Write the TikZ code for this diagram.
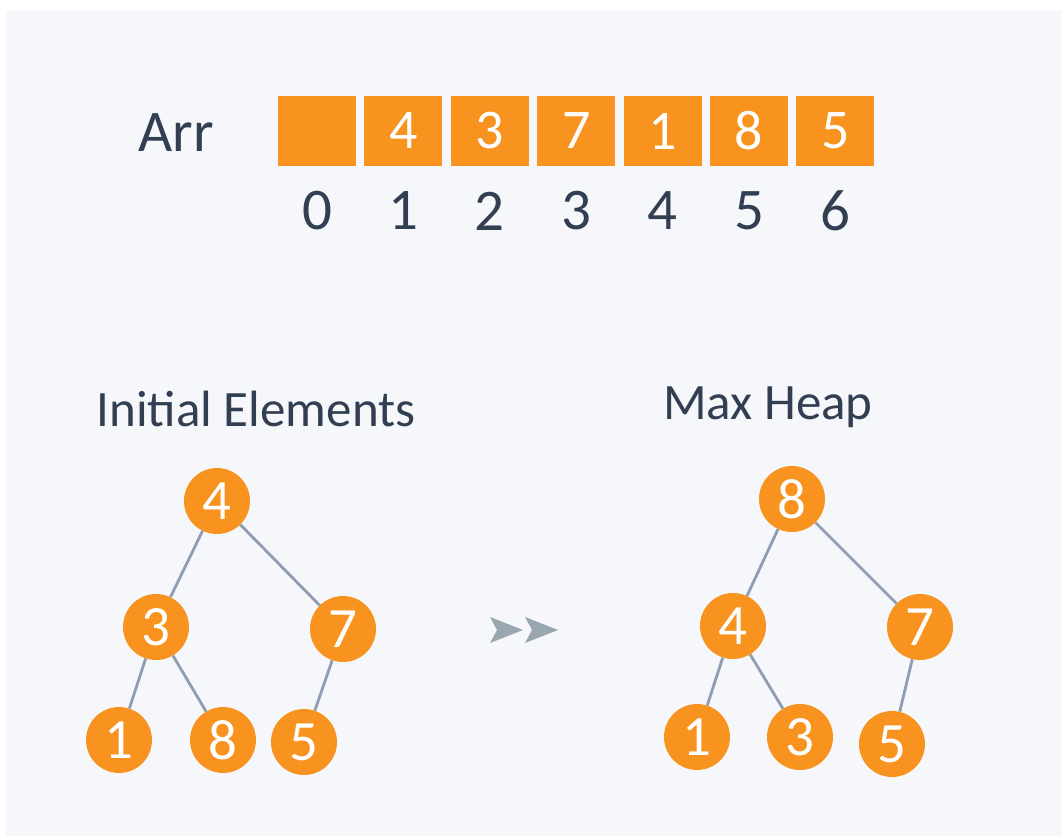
\documentclass[tikz,border=0pt]{standalone}
\usepackage{fontspec}
\setmainfont{Carlito}
\definecolor{bgpanel}{HTML}{F5F7FA}
\definecolor{orng}{HTML}{F7931E}
\definecolor{txtdark}{HTML}{323E52}
\definecolor{edgec}{HTML}{8E9DB2}
\definecolor{arrc}{HTML}{9AA6B0}
\tikzset{
  cell/.style={fill=orng, minimum width=78pt, minimum height=70pt, inner sep=0pt, text=white, font=\fontsize{56}{58}\selectfont},
  idx/.style={text=txtdark, inner sep=0pt, font=\fontsize{59}{62}\selectfont},
  hnode/.style={circle, fill=orng, minimum size=66pt, inner sep=0pt, text=white, font=\fontsize{57}{60}\selectfont},
  title/.style={text=txtdark, inner sep=0pt, font=\fontsize{51}{54}\selectfont},
  tedge/.style={draw=edgec, line width=2.8pt},
  chev/.style={fill=arrc, draw=none}
}
\begin{document}
\begin{tikzpicture}[x=1pt,y=-1pt]
\useasboundingbox (0,0) rectangle (1062,838);
\fill[white] (0,0) rectangle (1062,838);
\fill[bgpanel] (6,10) rectangle (1062,836);
% array
\node[idx, anchor=center] (arr) at (176,133) {Arr};
\foreach \i/\v in {0/,1/4,2/3,3/7,4/1,5/8,6/5}{
  \node[cell] (c\i) at ({317+86.4*\i},131) {\v};
  \node[idx] (i\i) at ({317+86.4*\i},211) {\i};
}
% titles
\node[title] (tl) at (256,409) {Initial Elements};
\node[title] (tr) at (768,407) {Max Heap};
% left tree
\node[hnode] (a4) at (217,501) {4};
\node[hnode] (a3) at (156,627) {3};
\node[hnode] (a7) at (343,629) {7};
\node[hnode] (a1) at (119,740) {1};
\node[hnode] (a8) at (223,740) {8};
\node[hnode] (a5) at (304,742) {5};
% right tree
\node[hnode] (b8) at (792,499) {8};
\node[hnode] (b4) at (733,626) {4};
\node[hnode] (b7) at (920,627) {7};
\node[hnode] (b1) at (697,737) {1};
\node[hnode] (b3) at (800,737) {3};
\node[hnode] (b5) at (892,744) {5};
% edges
\draw[tedge] (a4) -- (a3);
\draw[tedge] (a4) -- (a7);
\draw[tedge] (a3) -- (a1);
\draw[tedge] (a3) -- (a8);
\draw[tedge] (a7) -- (a5);
\draw[tedge] (b8) -- (b4);
\draw[tedge] (b8) -- (b7);
\draw[tedge] (b4) -- (b1);
\draw[tedge] (b4) -- (b3);
\draw[tedge] (b7) -- (b5);
% chevrons
\coordinate (ch1) at (490,630);
\coordinate (ch2) at (525,630);
\fill[chev] (ch1) ++(0,-13) -- ++(33,13) -- ++(-33,13) -- ++(7,-13) -- cycle;
\fill[chev] (ch2) ++(0,-13) -- ++(33,13) -- ++(-33,13) -- ++(7,-13) -- cycle;
\end{tikzpicture}
\end{document}
